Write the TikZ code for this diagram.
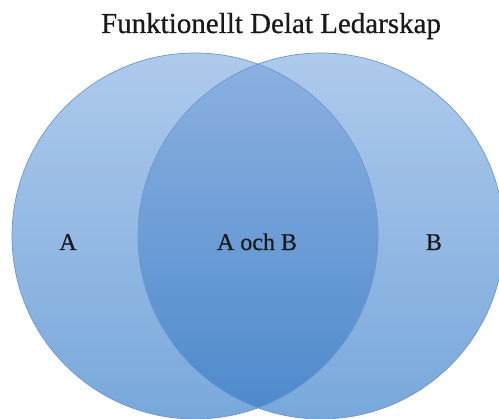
\documentclass[tikz,border=0pt]{standalone}
\usepackage{fontspec}
\setmainfont{Liberation Serif}
\newfontfamily\heavy{Liberation Serif}[FakeBold=0.6]
\definecolor{ctop}{HTML}{AECAEC}
\definecolor{cbot}{HTML}{78A8DB}
\definecolor{ltop}{HTML}{8DB1E1}
\definecolor{lbot}{HTML}{4C89CB}
\definecolor{cline}{HTML}{6D98CF}
\begin{document}
\begin{tikzpicture}[x=1pt,y=-1pt,
  circ/.style={top color=ctop,bottom color=cbot},
  lens/.style={top color=ltop,bottom color=lbot},
  edge/.style={draw=cline,line width=0.7pt},
  lbl/.style={font=\heavy\fontsize{24}{27}\selectfont,text=black!90}]
\useasboundingbox (0,0) rectangle (499,419);
\begin{scope}
\clip (0,0) rectangle (499,419);
\shade[circ] (195,236) circle (183);
\shade[circ] (321,236) circle (183);
\begin{scope}
\clip (195,236) circle (183);
\shade[lens] (321,236) circle (183);
\end{scope}
\draw[edge] (195,236) circle (183);
\draw[edge] (321,236) circle (183);
\end{scope}
\node[font=\heavy\fontsize{29}{32}\selectfont,anchor=base,text=black!90] (title) at (271,33) {Funktionellt Delat Ledarskap};
\node[lbl,anchor=base] (a) at (68,250) {A};
\node[lbl,anchor=base] (ab) at (257,250) {A och B};
\node[lbl,anchor=base] (b) at (434,250) {B};
\end{tikzpicture}
\end{document}
